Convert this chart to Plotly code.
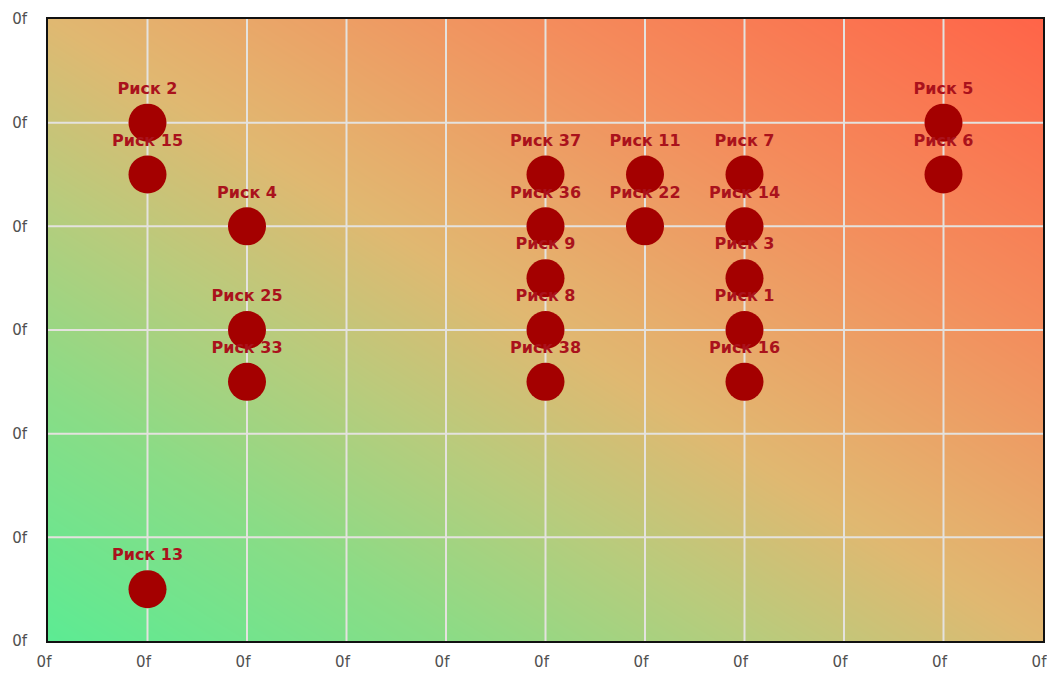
import numpy as np
import plotly.graph_objects as go

# Risk register: probability (x) vs impact (y)
risk_names = ["Риск 2", "Риск 15", "Риск 4", "Риск 25", "Риск 33", "Риск 13",
              "Риск 37", "Риск 36", "Риск 9", "Риск 8", "Риск 38",
              "Риск 11", "Риск 22",
              "Риск 7", "Риск 14", "Риск 3", "Риск 1", "Риск 16",
              "Риск 5", "Риск 6"]
risk_x = [1, 1, 2, 2, 2, 1,
          5, 5, 5, 5, 5,
          6, 6,
          7, 7, 7, 7, 7,
          9, 9]
risk_y = [5, 4.5, 4, 3, 2.5, 0.5,
          4.5, 4, 3.5, 3, 2.5,
          4.5, 4,
          4.5, 4, 3.5, 3, 2.5,
          5, 4.5]

x_ticks = list(range(0, 11))
y_ticks = list(range(0, 7))
tick_text_x = ["0f"] * len(x_ticks)
tick_text_y = ["0f"] * len(y_ticks)

X_MAX, Y_MAX = 10, 6

# diagonal background gradient: low risk (green) to high risk (red)
gx = np.linspace(0, X_MAX, 41)
gy = np.linspace(0, Y_MAX, 25)
GX, GY = np.meshgrid(gx, gy)
gz = GX / X_MAX + GY / Y_MAX

fig = go.Figure()
fig.add_trace(go.Heatmap(
    x=gx, y=gy, z=gz, zmin=0, zmax=2, zsmooth="best",
    colorscale=[[0.0, "#5CEB93"], [0.2, "#8ADC86"], [0.36, "#B9CB7C"],
                [0.5, "#E0B871"], [0.56, "#E6AE6C"], [0.75, "#F48C5C"],
                [1.0, "#FF6448"]],
    showscale=False, hoverinfo="skip",
))

# grid lines drawn over the gradient, under the markers
grid_x, grid_y = [], []
for t in x_ticks[1:-1]:
    grid_x += [t, t, None]
    grid_y += [0, Y_MAX, None]
for t in y_ticks[1:-1]:
    grid_x += [0, X_MAX, None]
    grid_y += [t, t, None]
fig.add_trace(go.Scatter(
    x=grid_x, y=grid_y, mode="lines",
    line=dict(color="#E4E2DE", width=2),
    hoverinfo="skip", showlegend=False,
))

fig.add_trace(go.Scatter(
    x=risk_x, y=risk_y, mode="markers+text",
    text=risk_names, textposition="top center",
    marker=dict(size=38, color="#A40000"),
    textfont=dict(family="DejaVu Sans", size=16, color="#AA121C", weight="bold"),
    hoverinfo="text", showlegend=False,
))

axis_common = dict(
    showgrid=False, zeroline=False, showline=True,
    linecolor="#111111", linewidth=2, mirror=True, ticks="",
    ticklabeloverflow="allow", automargin=False,
    tickfont=dict(family="DejaVu Sans", size=15, color="#505050"),
)
fig.update_xaxes(range=[0, X_MAX], tickvals=x_ticks, ticktext=tick_text_x,
                 ticklabelstandoff=6, ticklabelshift=-4, **axis_common)
fig.update_yaxes(range=[0, Y_MAX], tickvals=y_ticks, ticktext=tick_text_y,
                 ticklabelstandoff=16, **axis_common)

fig.update_layout(
    width=1047, height=678,
    margin=dict(l=48, r=4, t=19, b=37, autoexpand=False),
    paper_bgcolor="white", plot_bgcolor="white",
)
fig.write_html("out.html")
